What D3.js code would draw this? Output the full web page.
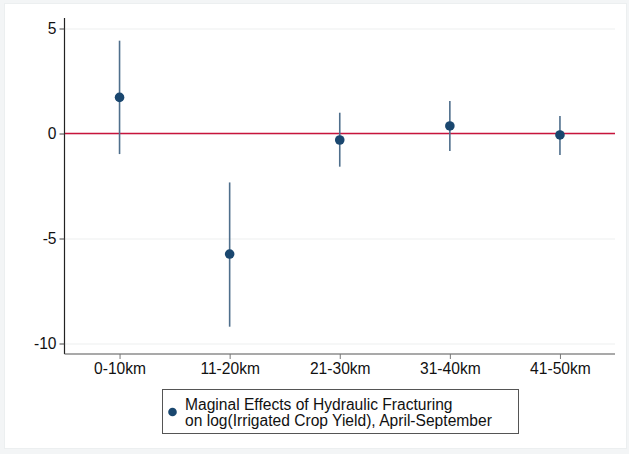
<!DOCTYPE html>
<html>
<head>
<meta charset="utf-8">
<script src="https://cdn.jsdelivr.net/npm/d3@7"></script>
<style>
  html, body { margin: 0; padding: 0; background: #f3f5f6; }
  svg { display: block; font-family: "Liberation Sans", Arial, Helvetica, sans-serif; }
</style>
</head>
<body>
<svg id="chart" width="629" height="454"></svg>
<script>
// Distance bands from the well site
const categories = ["0-10km", "11-20km", "21-30km", "31-40km", "41-50km"];
// Point estimates and 95% confidence bounds
const estimates = [1.72, -5.74, -0.31, 0.36, -0.07];
const lowerCI   = [-0.98, -9.2, -1.58, -0.83, -1.02];
const upperCI   = [4.42, -2.33, 0.99, 1.55, 0.83];
const yTicks = [-10, -5, 0, 5];
const legendLines = ["Maginal Effects of Hydraulic Fracturing",
                     "on log(Irrigated Crop Yield), April-September"];

const svg = d3.select("#chart");
const margin = { left: 64.5, right: 14, top: 18, bottom: 100 };
const FS = 15.6;

// graph region
svg.append("rect")
  .attr("x", 4.5).attr("y", 3.5).attr("width", 622).attr("height", 445)
  .attr("fill", "#ffffff").attr("stroke", "#eceff0");

const x = d3.scaleLinear().domain([0.5, 5.5]).range([margin.left, 615]);
const y = d3.scaleLinear().domain([-10.5, 5.5]).range([354, 18]);

// horizontal grid lines
svg.append("g").selectAll("line").data(yTicks).join("line")
  .attr("x1", margin.left).attr("x2", 615)
  .attr("y1", d => y(d) + 0.5).attr("y2", d => y(d) + 0.5)
  .attr("stroke", "#eef0f0").attr("stroke-width", 1.2);

// reference line at zero
svg.append("line")
  .attr("x1", margin.left).attr("x2", 615)
  .attr("y1", y(0)).attr("y2", y(0))
  .attr("stroke", "#c8143c").attr("stroke-width", 1.6);

// y axis (plain hyphen for negatives)
const yAxis = d3.axisLeft(y).tickValues(yTicks).tickSize(5).tickPadding(3)
  .tickFormat(d => String(d));
const gy = svg.append("g").attr("transform", `translate(${margin.left},0)`).call(yAxis);
gy.select(".domain").attr("stroke", "#222").attr("stroke-width", 1.2)
  .attr("d", `M0,${y(5.5)}V${354}`);
gy.selectAll(".tick line").attr("stroke", "#444");
gy.selectAll(".tick text").attr("font-size", FS).attr("fill", "#111")
  .attr("font-family", "Liberation Sans, Arial, sans-serif");

// x axis
const xAxis = d3.axisBottom(x).tickValues(d3.range(1, 6)).tickSize(5).tickPadding(4)
  .tickFormat(d => categories[d - 1]);
const gx = svg.append("g").attr("transform", "translate(0,354)").call(xAxis);
gx.select(".domain").attr("stroke", "#555").attr("stroke-width", 1.2)
  .attr("d", `M${margin.left},0H615`);
gx.selectAll(".tick line").attr("stroke", "#777");
gx.selectAll(".tick text").attr("font-size", FS).attr("fill", "#111")
  .attr("font-family", "Liberation Sans, Arial, sans-serif");

// confidence intervals
svg.append("g").selectAll("line").data(categories).join("line")
  .attr("x1", (d, i) => x(i + 1)).attr("x2", (d, i) => x(i + 1))
  .attr("y1", (d, i) => y(upperCI[i])).attr("y2", (d, i) => y(lowerCI[i]))
  .attr("stroke", "#4f6f8c").attr("stroke-width", 1.6);

// point estimates
svg.append("g").selectAll("circle").data(categories).join("circle")
  .attr("cx", (d, i) => x(i + 1)).attr("cy", (d, i) => y(estimates[i]))
  .attr("r", 4.8).attr("fill", "#1a476f");

// legend
const lg = svg.append("g");
lg.append("rect").attr("x", 162.5).attr("y", 389.5).attr("width", 356).attr("height", 44)
  .attr("fill", "#fff").attr("stroke", "#555").attr("stroke-width", 1);
lg.append("circle").attr("cx", 172.5).attr("cy", 412).attr("r", 4.3).attr("fill", "#1a476f");
lg.selectAll("text").data(legendLines).join("text")
  .attr("x", 185).attr("y", (d, i) => 410 + i * 15.5)
  .attr("font-size", FS).attr("fill", "#111")
  .text(d => d);
</script>
</body>
</html>
